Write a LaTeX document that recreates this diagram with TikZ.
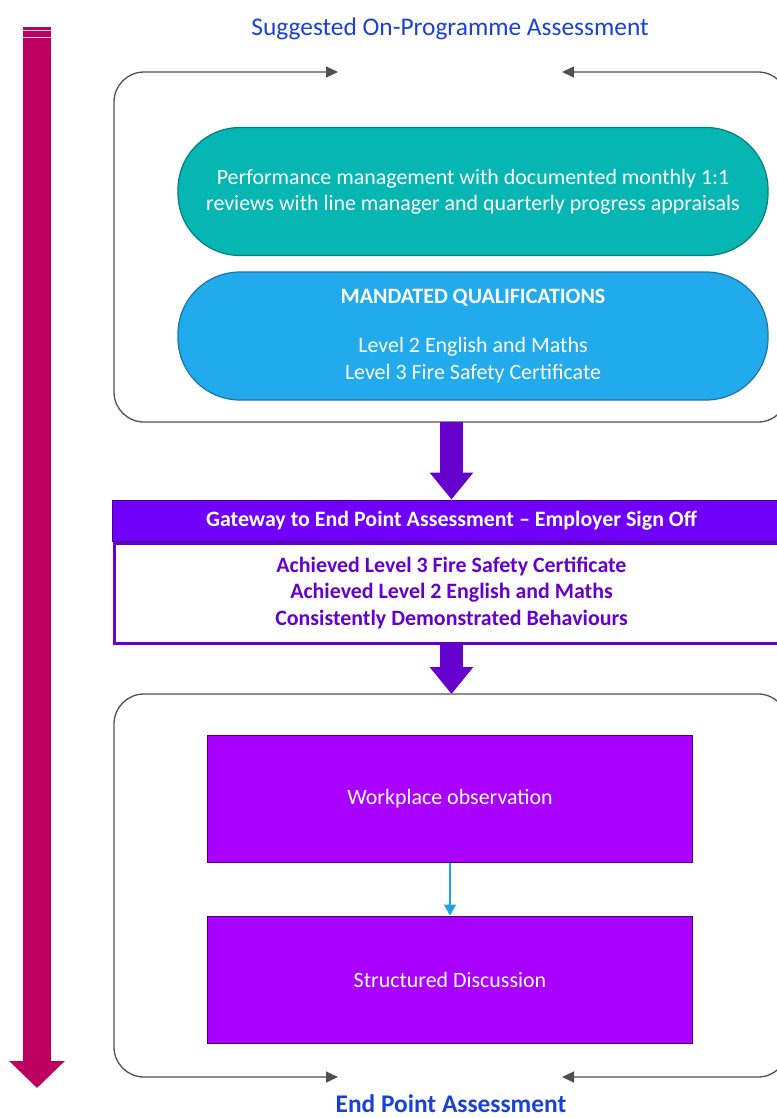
\documentclass[tikz,border=0pt]{standalone}
\usepackage{fontspec}
\setmainfont{Carlito}
\usepackage{xcolor}
\usepackage{tikz}
\usetikzlibrary{arrows.meta,positioning,calc}
\definecolor{epamagenta}{RGB}{189,0,95}
\definecolor{epateal}{RGB}{5,182,178}
\definecolor{epablue}{RGB}{33,170,236}
\definecolor{epaheader}{RGB}{112,0,250}
\definecolor{epapurple}{RGB}{102,0,204}
\definecolor{epaviolet}{RGB}{170,0,255}
\definecolor{epatitle}{RGB}{25,65,210}
\definecolor{epaarrow}{RGB}{30,164,226}
\definecolor{epaframe}{RGB}{80,80,80}

\begin{document}
\begin{tikzpicture}[
        x=1bp, y=-1bp,
        every node/.style={font=\fontsize{22}{26.5}\selectfont, align=center, inner sep=0pt},
        pill/.style={rectangle, rounded corners=62bp, draw=#1!70!black, line width=1.2bp, fill=#1,
            text=white, minimum width=590bp, minimum height=128bp},
        evidence/.style={rectangle, draw=epapurple!60!black, line width=1bp, fill=epaviolet,
            text=white, minimum width=484bp, minimum height=127bp},
        frame/.style={draw=epaframe, line width=1.3bp, rounded corners=30bp,
            {Triangle[width=11bp,length=12bp]}-{Triangle[width=11bp,length=12bp]}},
        bigarrow/.style={draw=epapurple, line width=23bp, -{Triangle[width=42bp,length=27bp]}},
        title/.style={text=epatitle, font=\fontsize{25.5}{30}\selectfont}
    ]
        \useasboundingbox (0,0) rectangle (777,1118);

        % Timeline arrow on the left
        \draw[epamagenta, line width=28bp, -{Triangle[width=54bp,length=27bp]}] (37,27) -- (37,1088);
        \draw[white!80!epamagenta, line width=0.8bp] (23,30) -- (51,30) (23,37) -- (51,37);

        % On-programme stage
        \node[title] (onprogtitle) at (450,29) {Suggested On-Programme Assessment};
        \draw[frame] (338,72) -- (114,72) -- (114,422) -- (788,422) -- (788,72) -- (562,72);
        \coordinate (onprog) at (451.5,422);

        \node[pill=epateal] (review) at (473,191.5)
            {Performance management with documented monthly 1:1\\reviews with line manager and quarterly progress appraisals};
        \node[pill=epablue] (quals) at (473,336)
            {\textbf{MANDATED QUALIFICATIONS}\\[22.5bp]Level 2 English and Maths\\Level 3 Fire Safety Certificate};

        % Gateway
        \node[rectangle, fill=epaheader, draw=epapurple!70!black, line width=1bp, text=white,
            minimum width=677bp, minimum height=41bp, font=\fontsize{22}{26.5}\selectfont\bfseries]
            (gateway) at (451.5,520.5) {Gateway to End Point Assessment -- Employer Sign Off};
        \node[rectangle, draw=epapurple, line width=3bp, fill=white, text=epapurple,
            minimum width=674bp, minimum height=100bp, font=\fontsize{22}{26.5}\selectfont\bfseries,
            below=0pt of gateway] (criteria)
            {Achieved Level 3 Fire Safety Certificate\\Achieved Level 2 English and Maths\\Consistently Demonstrated Behaviours};

        \draw[bigarrow] (onprog) -- (gateway.north);

        % End point stage
        \coordinate (epa) at (451.5,694);
        \draw[bigarrow] (criteria.south) -- (epa);
        \draw[frame] (338,1077) -- (114,1077) -- (114,694) -- (788,694) -- (788,1077) -- (562,1077);

        \node[evidence] (observation) at (450,798.5) {Workplace observation};
        \node[evidence, below=53bp of observation] (discussion) {Structured Discussion};
        \draw[epaarrow, line width=1.3bp, -{Triangle[width=12bp,length=11bp]}] (observation) -- (discussion);

        \node[title, font=\fontsize{25.5}{30}\selectfont\bfseries] (epatitle) at (451,1104) {End Point Assessment};
    \end{tikzpicture}
\end{document}
